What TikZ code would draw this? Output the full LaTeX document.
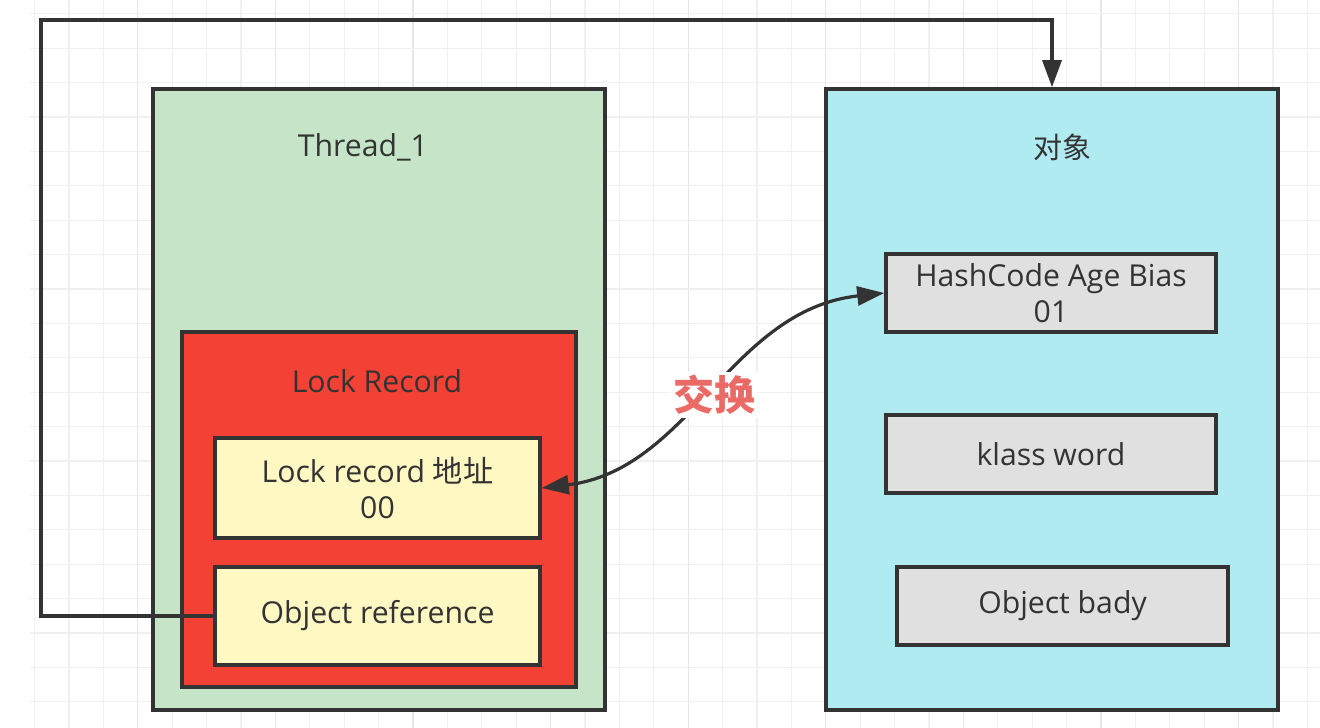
\documentclass[tikz,border=0pt]{standalone}
\usepackage{fontspec}
\setmainfont{Open Sans}
\newfontfamily\cjk{Noto Sans CJK SC}
\usetikzlibrary{arrows.meta}
\definecolor{gridminor}{HTML}{F0F0F0}
\definecolor{gridmajor}{HTML}{E6E6E6}
\definecolor{strokec}{HTML}{333333}
\definecolor{textc}{HTML}{333333}
\definecolor{threadfill}{HTML}{C6E5C8}
\definecolor{redfill}{HTML}{F34135}
\definecolor{yellowfill}{HTML}{FFF8C3}
\definecolor{cyanfill}{HTML}{B1EBF2}
\definecolor{grayfill}{HTML}{E0E0E0}
\definecolor{swapc}{HTML}{EA6B66}
\tikzset{
  box/.style={draw=strokec, line width=3.6pt, rectangle, inner sep=0pt, text=textc, align=center,
    font=\fontsize{30.2}{36}\selectfont},
  lbl/.style={text=textc, inner sep=0pt, font=\fontsize{30.2}{36}\selectfont},
  conn/.style={draw=strokec, line width=3.2pt},
  tip/.style={-{Triangle[length=27pt,width=19pt]}},
  biarrow/.style={{Triangle[length=27pt,width=19pt]}-{Triangle[length=27pt,width=19pt]}},
}
\begin{document}
\begin{tikzpicture}[x=1pt,y=-1pt]
\useasboundingbox (0,0) rectangle (1320,728);
\fill[white] (0,0) rectangle (1320,728);
% grid
\foreach \i in {1,...,38} {
  \pgfmathtruncatemacro{\m}{mod(\i,4)}
  \ifnum\m=0
    \draw[gridmajor, line width=1.2pt] ({0.2+34.4*\i},0) -- ({0.2+34.4*\i},728);
  \else
    \draw[gridminor, line width=1.2pt] ({0.2+34.4*\i},0) -- ({0.2+34.4*\i},728);
  \fi
}
\foreach \j in {0,...,20} {
  \draw[gridminor, line width=1.2pt] (30,{13.8+34.4*\j}) -- (1320,{13.8+34.4*\j});
}
% thread side
\node[box, fill=threadfill, minimum width=452pt, minimum height=621pt] (thread) at (379,399.5) {};
\node[lbl] (threadlbl) at (363,147) {Thread\_1};
\node[box, fill=redfill, minimum width=394pt, minimum height=355pt] (lockrec) at (379,509.5) {};
\node[lbl] (lockreclbl) at (377,381) {Lock Record};
\node[box, fill=yellowfill, minimum width=325pt, minimum height=100pt] (lockaddr) at (377.5,488) {Lock record {\cjk 地址}\\00};
\node[box, fill=yellowfill, minimum width=325pt, minimum height=98pt] (objref) at (377.5,616) {Object reference};
% object side
\node[box, fill=cyanfill, minimum width=452pt, minimum height=621pt] (obj) at (1052,399.5) {};
\node[lbl, font=\cjk\fontsize{29}{36}\selectfont] (objlbl) at (1062,147) {对象};
\node[box, fill=grayfill, minimum width=330pt, minimum height=78pt] (hash) at (1051,293) {HashCode Age Bias\\01};
\node[box, fill=grayfill, minimum width=330pt, minimum height=78pt] (klass) at (1051,454) {klass word};
\node[box, fill=grayfill, minimum width=331pt, minimum height=78pt] (bady) at (1062.5,606) {Object bady};
% connectors
\coordinate (c1) at (41,616);
\coordinate (c2) at (41,20);
\draw[conn, tip] (objref.west) -- (c1) -- (c2) -| (obj.north);
\draw[conn, biarrow] (lockaddr.east) .. controls (690,470) and (730,310) .. (hash.west);
\node[fill=white, text=swapc, inner sep=3pt, font=\cjk\fontsize{41}{44}\selectfont\bfseries] (swap) at (714,395) {交换};
\end{tikzpicture}
\end{document}
